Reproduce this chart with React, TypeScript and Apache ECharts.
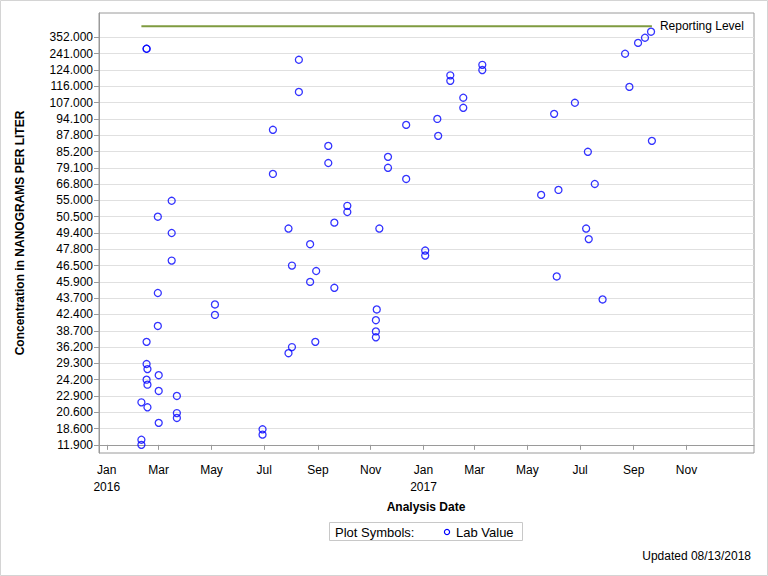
import React, { useEffect, useRef } from 'react';
import * as echarts from 'echarts';

// Y axis tick labels (equally spaced, lowest first)
const tickLabels = [
  '11.900', '18.600', '20.600', '22.900', '24.200', '29.300', '36.200', '38.700',
  '42.400', '43.700', '45.900', '46.500', '47.800', '49.400', '50.500', '55.000',
  '66.800', '79.100', '85.200', '87.800', '94.100', '107.000', '116.000', '124.000',
  '241.000', '352.000',
];
const tickValues = tickLabels.map(Number);

// X axis tick months
const axisMonths = [
  '2016-01', '2016-03', '2016-05', '2016-07', '2016-09', '2016-11',
  '2017-01', '2017-03', '2017-05', '2017-07', '2017-09', '2017-11',
];
const xMinDate = '2015-12-23';
const xMaxDate = '2018-01-18';

// Lab values
const sampleDates = [
  '2016-02-10', '2016-02-10', '2016-02-10',
  '2016-02-16', '2016-02-16', '2016-02-16', '2016-02-16', '2016-02-16',
  '2016-02-17', '2016-02-17', '2016-02-17',
  '2016-02-29', '2016-02-29', '2016-02-29',
  '2016-03-01', '2016-03-01', '2016-03-01',
  '2016-03-16', '2016-03-16', '2016-03-16',
  '2016-03-22', '2016-03-22', '2016-03-22',
  '2016-05-05', '2016-05-05',
  '2016-06-29', '2016-06-29',
  '2016-07-11', '2016-07-11',
  '2016-07-29', '2016-07-29',
  '2016-08-02', '2016-08-02',
  '2016-08-10', '2016-08-10',
  '2016-08-23', '2016-08-23',
  '2016-08-29', '2016-08-30',
  '2016-09-13', '2016-09-13',
  '2016-09-20', '2016-09-20',
  '2016-10-05', '2016-10-05',
  '2016-11-07', '2016-11-07', '2016-11-07', '2016-11-08', '2016-11-11',
  '2016-11-21', '2016-11-21',
  '2016-12-12', '2016-12-12',
  '2017-01-03', '2017-01-03',
  '2017-01-17', '2017-01-18',
  '2017-02-01', '2017-02-01',
  '2017-02-16', '2017-02-16',
  '2017-03-10', '2017-03-10',
  '2017-05-17', '2017-06-01', '2017-06-04', '2017-06-06', '2017-06-25',
  '2017-07-08', '2017-07-10', '2017-07-11', '2017-07-18', '2017-07-27',
  '2017-08-22', '2017-08-27', '2017-09-06', '2017-09-14', '2017-09-21', '2017-09-22',
];
const labValues = [
  22.0, 14.0, 11.9,
  275, 275, 37.0, 29.1, 24.2,
  27.5, 23.8, 21.3,
  50.5, 44.4, 39.8,
  25.6, 23.3, 19.3,
  54.9, 49.4, 46.9,
  22.9, 20.5, 19.9,
  43.2, 42.3,
  18.3, 16.1,
  89.9, 74.5,
  49.7, 33.6,
  46.5, 36.2,
  197.7, 112.9,
  48.3, 45.9,
  37.0, 46.3,
  86.1, 80.9,
  50.1, 45.1,
  53.5, 51.8,
  41.1, 38.6, 37.7, 42.8, 49.7,
  83.2, 79.1,
  91.8, 70.7,
  47.7, 47.3,
  94.1, 87.7,
  121.4, 118.7,
  109.7, 102.9,
  161.4, 124.0,
  59.0, 98.1, 46.1, 62.6, 106.9,
  49.7, 85.1, 48.8, 66.9, 43.6,
  241.0, 115.7, 315.0, 350.0, 391.0, 86.9,
];

const reportingLevel = 429;
const reportingStart = '2016-02-10';
const reportingEnd = '2017-09-22';

const FONT = '"Liberation Sans", Arial, sans-serif';
const monthNames = ['Jan', 'Feb', 'Mar', 'Apr', 'May', 'Jun', 'Jul', 'Aug', 'Sep', 'Oct', 'Nov', 'Dec'];

function toTime(s: string): number {
  const p = s.split('-').map(Number);
  return new Date(p[0], p[1] - 1, p[2] || 1).getTime();
}

// piecewise-linear position on the equally spaced tick scale
function toLevel(v: number): number {
  const tv = tickValues;
  const n = tv.length;
  if (v <= tv[0]) return (v - tv[0]) / (tv[1] - tv[0]);
  for (let i = 0; i < n - 1; i++) {
    if (v <= tv[i + 1]) return i + (v - tv[i]) / (tv[i + 1] - tv[i]);
  }
  return n - 1 + (v - tv[n - 1]) / (tv[n - 1] - tv[n - 2]);
}

export default function App() {
  const ref = useRef<HTMLDivElement>(null);
  useEffect(() => {
    if (!ref.current) return;
    const chart = echarts.init(ref.current, undefined, { renderer: 'svg' });
    const levels = tickValues.map((_, i) => i);
    const monthTimes = axisMonths.map(toTime);
    const points = sampleDates.map((d, i) => [toTime(d), toLevel(labValues[i]), labValues[i]]);
    const option: any = {
      animation: false,
      backgroundColor: '#ffffff',
      textStyle: { fontFamily: FONT },
      grid: {
        left: 99, right: 14, top: 13, bottom: 123,
        show: true, borderColor: '#9a9a9a', borderWidth: 1, backgroundColor: 'transparent',
      },
      xAxis: {
        type: 'value',
        min: toTime(xMinDate),
        max: toTime(xMaxDate),
        axisLine: { show: true, lineStyle: { color: '#9a9a9a' } },
        axisTick: { show: true, length: 5, lineStyle: { color: '#9a9a9a' }, customValues: monthTimes },
        axisLabel: {
          customValues: monthTimes,
          color: '#000', fontSize: 12, fontFamily: FONT, margin: 8, lineHeight: 17,
          hideOverlap: false,
          formatter: (val: number) => {
            const d = new Date(val);
            const m = d.getMonth();
            return m === 0 ? monthNames[m] + '\n' + d.getFullYear() : monthNames[m];
          },
        },
        splitLine: { show: false },
      },
      yAxis: {
        type: 'value',
        min: -0.5,
        max: 26.5,
        axisLine: { show: true, lineStyle: { color: '#9a9a9a' } },
        axisTick: { show: true, length: 5, lineStyle: { color: '#9a9a9a' }, customValues: levels },
        axisLabel: {
          customValues: levels,
          color: '#000', fontSize: 12, fontFamily: FONT, margin: 6,
          formatter: (val: number) => tickLabels[Math.round(val)] ?? '',
        },
        splitLine: { show: true, lineStyle: { color: '#e0e0e0', width: 1 } },
      },
      series: [
        {
          type: 'line',
          data: [
            [toTime(reportingStart), toLevel(reportingLevel)],
            [toTime(reportingEnd), toLevel(reportingLevel)],
          ],
          symbol: 'none',
          lineStyle: { color: '#7F9B40', width: 2 },
          endLabel: {
            show: true, formatter: 'Reporting Level', color: '#000',
            fontSize: 12, fontFamily: FONT, distance: 8,
          },
          z: 1,
        },
        {
          type: 'scatter',
          data: points,
          symbol: 'circle',
          symbolSize: 7,
          itemStyle: { color: 'rgba(0,0,0,0)', borderColor: '#0000ff', borderWidth: 1.3 },
          z: 3,
        },
      ],
      graphic: [
        {
          type: 'rect', silent: true,
          shape: { x: 0.5, y: 0.5, width: 767, height: 575 },
          style: { fill: 'none', stroke: '#d4d4d4', lineWidth: 1 },
        },
        {
          type: 'text', x: 20, y: 233, rotation: Math.PI / 2,
          style: {
            text: 'Concentration in NANOGRAMS PER LITER', fill: '#000',
            font: 'bold 12px ' + FONT, textAlign: 'center', textVerticalAlign: 'middle',
          },
        },
        {
          type: 'text', x: 426, y: 507,
          style: {
            text: 'Analysis Date', fill: '#000', font: 'bold 12px ' + FONT,
            textAlign: 'center', textVerticalAlign: 'middle',
          },
        },
        {
          type: 'rect', silent: true,
          shape: { x: 329.5, y: 522.5, width: 193, height: 18 },
          style: { fill: 'none', stroke: '#c8c8c8', lineWidth: 1 },
        },
        {
          type: 'text', x: 335, y: 532,
          style: { text: 'Plot Symbols:', fill: '#000', font: '13px ' + FONT, textVerticalAlign: 'middle' },
        },
        {
          type: 'circle', shape: { cx: 447, cy: 532, r: 2.6 },
          style: { fill: 'none', stroke: '#0000ff', lineWidth: 1.2 },
        },
        {
          type: 'text', x: 456, y: 532,
          style: { text: 'Lab Value', fill: '#000', font: '13px ' + FONT, textVerticalAlign: 'middle' },
        },
        {
          type: 'text', x: 751, y: 556,
          style: {
            text: 'Updated 08/13/2018', fill: '#000', font: '12px ' + FONT,
            textAlign: 'right', textVerticalAlign: 'middle',
          },
        },
      ],
    };
    chart.setOption(option);
    return () => chart.dispose();
  }, []);
  return (
    <div
      ref={ref}
      style={{ position: 'fixed', left: 0, top: 0, width: 768, height: 576, background: '#fff' }}
    />
  );
}
